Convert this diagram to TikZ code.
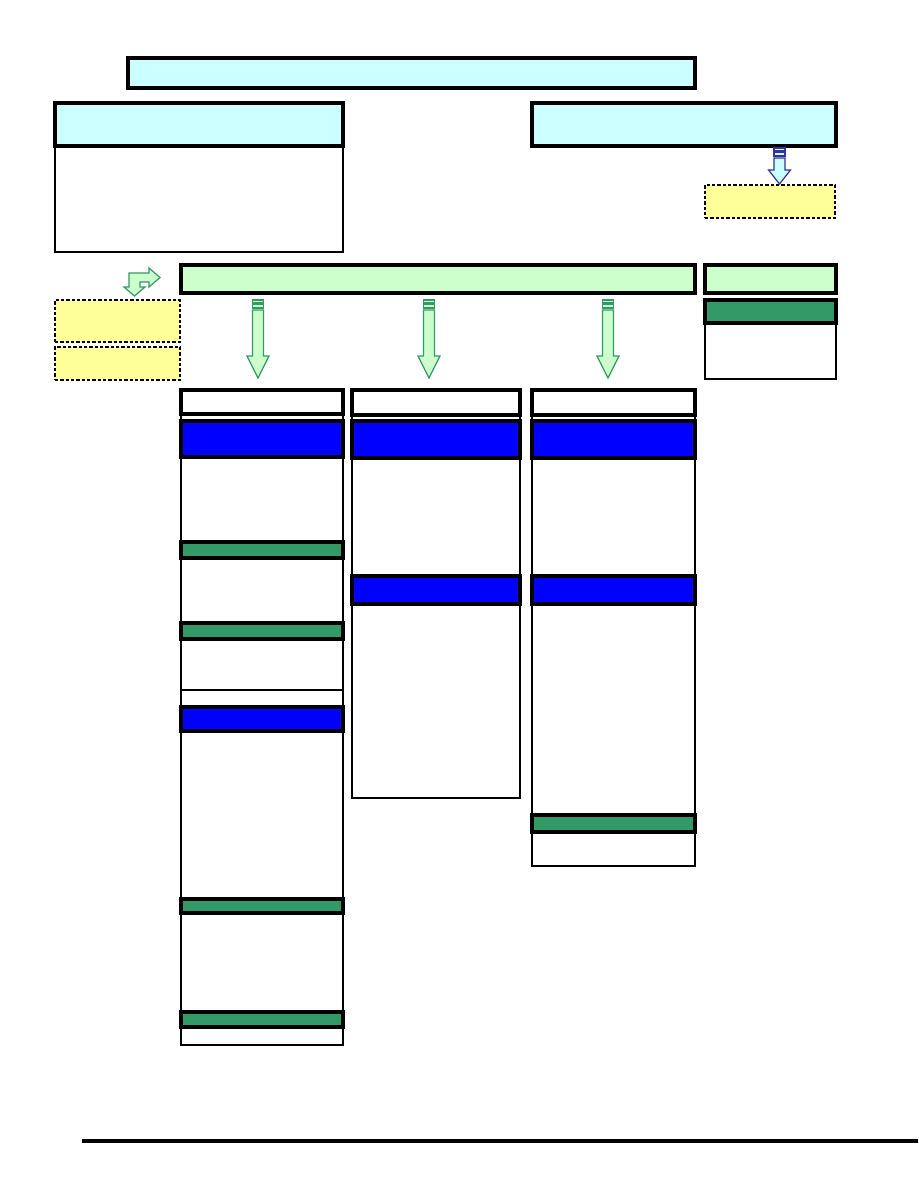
\documentclass[tikz,border=0pt]{standalone}
\definecolor{cyanL}{HTML}{CCFFFF}
\definecolor{yelL}{HTML}{FFFF99}
\definecolor{grnL}{HTML}{CCFFCC}
\definecolor{grnD}{HTML}{339966}
\definecolor{bluB}{HTML}{0000FF}
\definecolor{bluO}{HTML}{333399}
\tikzset{
  bxbase/.style={rectangle, inner sep=0pt, outer sep=0pt},
  thickbox/.style={bxbase, draw=black, line width=2.3pt},
  thinbox/.style={bxbase, draw=black, line width=1.1pt, fill=white},
  cyanbox/.style={thickbox, fill=cyanL},
  lgbox/.style={thickbox, fill=grnL},
  dgbox/.style={thickbox, fill=grnD},
  bluebox/.style={thickbox, fill=bluB},
  whitebox/.style={thickbox, fill=white},
  yelbox/.style={bxbase, draw=black, line width=0.8pt, dash pattern=on 2.5pt off 1.5pt, fill=yelL},
  garrow/.style={draw=grnD, fill=grnL, line width=0.9pt, line join=miter},
  barrow/.style={draw=bluO, fill=cyanL, line width=0.9pt, line join=miter},
}
\newcommand{\bx}[6]{\node[#2, minimum width={(#5-#3)*0.75pt}, minimum height={(#6-#4)*0.75pt}] (#1) at ({(#3+#5)/2},{(#4+#6)/2}) {};}
% stripes on top of a down block arrow centred at x=#1, top y=#2
\newcommand{\darrow}[3]{%
  \draw[#3] ({#1-5.5},{#2}) rectangle ({#1+5.5},{#2+2.5});
  \draw[#3] ({#1-5.5},{#2+4}) rectangle ({#1+5.5},{#2+8});
}
\begin{document}
\begin{tikzpicture}[x=0.75pt,y=-0.75pt]
\useasboundingbox (0,0) rectangle (918,1188);
\fill[white] (0,0) rectangle (918,1188);

% top title
\bx{title}{cyanbox}{128}{58}{695}{88}
% left top
\bx{lbody}{thinbox}{55}{146}{343}{252}
\bx{lhead}{cyanbox}{55}{103}{343}{146}
% right top
\bx{rhead}{cyanbox}{532}{103}{836}{146}
\bx{ryel}{yelbox}{705}{185}{835}{218}

% main green bar and right green
\bx{gbar}{lgbox}{181}{265}{695}{293}
\bx{rgreen}{lgbox}{705}{265}{836}{293}
\bx{rbody}{thinbox}{705}{323}{836}{379}
\bx{rdark}{dgbox}{705}{300}{836}{323}

% left yellow boxes
\bx{yel1}{yelbox}{55}{300}{180}{342}
\bx{yel2}{yelbox}{55}{347}{180}{380}

% column 1
\bx{c1body}{thinbox}{181}{390}{343}{1045}
\bx{c1head}{whitebox}{181}{390}{343}{414}
\bx{c1b1}{bluebox}{181}{421}{343}{457}
\bx{c1g1}{dgbox}{181}{542}{343}{558}
\bx{c1g2}{dgbox}{181}{623}{343}{639}
\coordinate (c1l) at (181,690);
\coordinate (c1r) at (343,690);
\draw[line width=1.1pt] (c1l) -- (c1r);
\bx{c1b2}{bluebox}{181}{707}{343}{731}
\bx{c1g3}{dgbox}{181}{899}{343}{913}
\bx{c1g4}{dgbox}{181}{1012}{343}{1027}

% column 2
\bx{c2body}{thinbox}{352}{390}{520}{798}
\bx{c2head}{whitebox}{352}{390}{520}{415}
\bx{c2b1}{bluebox}{352}{421}{520}{458}
\bx{c2b2}{bluebox}{352}{576}{520}{604}

% column 3
\bx{c3body}{thinbox}{532}{390}{695}{866}
\bx{c3head}{whitebox}{532}{390}{695}{415}
\bx{c3b1}{bluebox}{532}{421}{695}{458}
\bx{c3b2}{bluebox}{532}{576}{695}{604}
\bx{c3g1}{dgbox}{532}{815}{695}{832}

% green down arrows
\foreach \cx in {258,429,608}{
  \darrow{\cx}{300}{garrow}
  \draw[garrow] ({\cx-5.5},310) -- ({\cx+5.5},310) -- ({\cx+5.5},356) -- ({\cx+11},356)
     -- (\cx,378) -- ({\cx-11},356) -- ({\cx-5.5},356) -- cycle;
}
% blue down arrow
\darrow{779.5}{148}{barrow}
\draw[barrow] (774,158) -- (785,158) -- (785,170) -- (790.5,170) -- (779.5,184)
   -- (768.5,170) -- (774,170) -- cycle;

% bent arrow
\draw[garrow] (129,287) -- (129,273) -- (149,273) -- (149,268) -- (160,277.5)
  -- (149,287) -- (149,282) -- (140,282) -- (140,287) -- (145,287) -- (134.5,296)
  -- (124,287) -- cycle;

% bottom rule
\coordinate (ruleL) at (82,1141);
\coordinate (ruleR) at (918,1141);
\draw[line width=2.4pt] (ruleL) -- (ruleR);
\end{tikzpicture}
\end{document}
